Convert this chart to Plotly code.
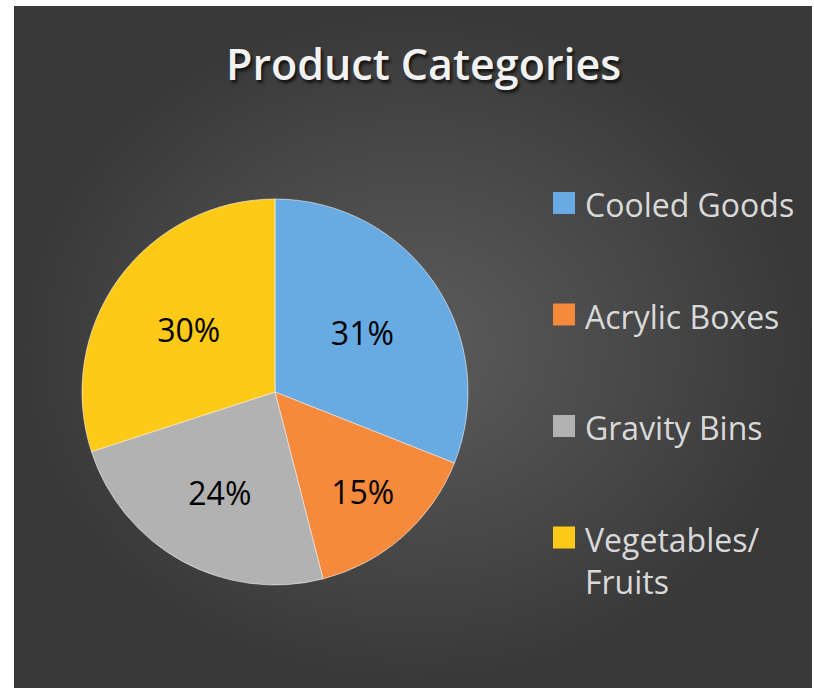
import plotly.graph_objects as go

categories = ["Cooled Goods", "Acrylic Boxes", "Gravity Bins", "Vegetables/<br>Fruits"]
values = [31, 15, 24, 30]
colors = ["#68aae2", "#f58a3c", "#b2b2b2", "#ffc918"]
title_text = "Product Categories"

W, H = 814, 688

fig = go.Figure()

# background panel with radial gradient
bx0, bx1, by0, by1 = 14, 812, 6, 688
fig.add_trace(go.Scatter(
    x=[bx0, bx1, bx1, bx0, bx0], y=[by0, by0, by1, by1, by0],
    mode="lines", line=dict(width=0), fill="toself",
    fillgradient=dict(type="radial", colorscale=[[0, "#5c5c5c"], [0.6, "#474747"], [1, "#383838"]]),
    hoverinfo="skip", showlegend=False,
))

# pie
cx, cy, r = 275, 392, 193
fig.add_trace(go.Pie(
    labels=categories, values=values, sort=False, direction="clockwise",
    rotation=0,
    marker=dict(colors=colors, line=dict(color="rgba(255,255,255,0.55)", width=1)),
    textinfo="percent", textposition="inside", insidetextorientation="horizontal",
    texttemplate="%{percent:.0%}",
    textfont=dict(family="Open Sans", size=32, color="#000000"),
    domain=dict(x=[(cx - r) / W, (cx + r) / W], y=[1 - (cy + r) / H, 1 - (cy - r) / H]),
    showlegend=False, hoverinfo="label+percent",
))

# legend (manual)
leg_x_sq, leg_sq = 553, 22
leg_x_txt = 583
leg_y0, leg_dy = 203, 111.5
fs = 32
shapes = []
annotations = []
for i, (lab, col) in enumerate(zip(categories, colors)):
    yc = leg_y0 + i * leg_dy
    shapes.append(dict(type="rect", xref="x", yref="y",
                       x0=leg_x_sq, x1=leg_x_sq + leg_sq, y0=yc - leg_sq / 2, y1=yc + leg_sq / 2,
                       fillcolor=col, line=dict(width=0), layer="above"))
    annotations.append(dict(text=lab, xref="x", yref="y", x=leg_x_txt, y=yc - 0.65 * fs - 1,
                            xanchor="left", yanchor="top", showarrow=False, align="left",
                            font=dict(family="Open Sans", size=fs, color="#d9d9d9")))

annotations.append(dict(text=title_text, xref="x", yref="y", x=423, y=63,
                        xanchor="center", yanchor="middle", showarrow=False,
                        font=dict(family="Open Sans", size=43, weight=600, color="#f2f2f2",
                                  shadow="2px 3px 3px rgba(0,0,0,0.7)")))

fig.update_layout(
    width=W, height=H, margin=dict(l=0, r=0, t=0, b=0),
    paper_bgcolor="#ffffff", plot_bgcolor="rgba(0,0,0,0)",
    xaxis=dict(range=[0, W], visible=False, fixedrange=True),
    yaxis=dict(range=[H, 0], visible=False, fixedrange=True),
    shapes=shapes, annotations=annotations,
)

fig.write_html("out.html")
